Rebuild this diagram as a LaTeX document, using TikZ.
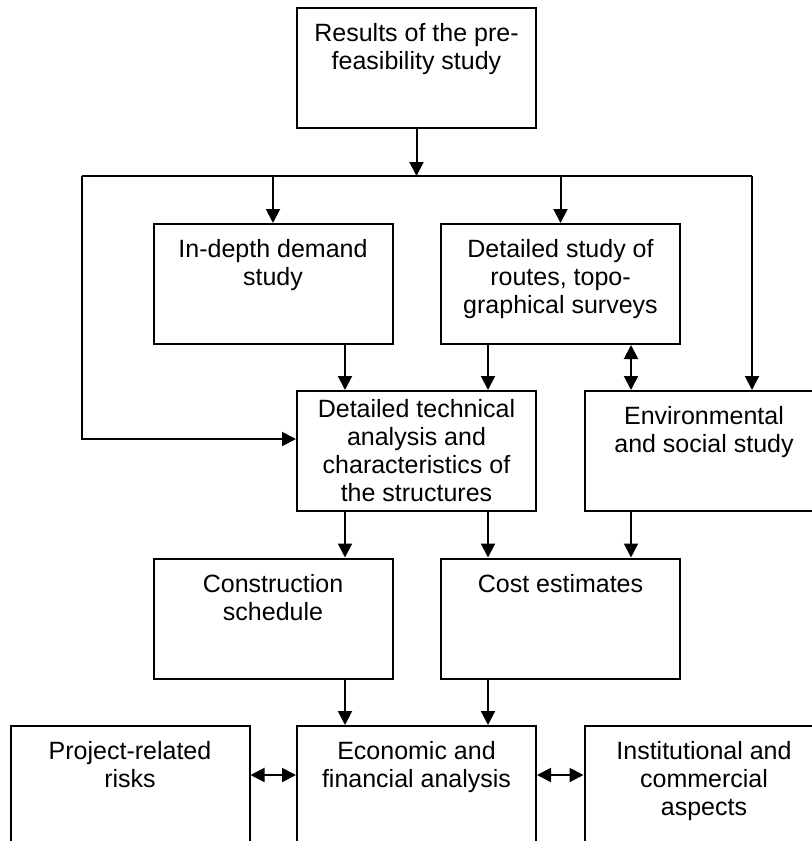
\documentclass[tikz,border=0pt]{standalone}
\usepackage{fontspec}
\setmainfont{Liberation Sans}
\usetikzlibrary{arrows.meta}
\begin{document}
\begin{tikzpicture}[x=0.5pt, y=-0.5pt,
    box/.style={draw, line width=1pt, minimum width=119.5pt, minimum height=60pt, inner sep=0pt},
    txt/.style={anchor=north, align=center, inner sep=0pt, yshift=-8pt, font=\fontsize{12.5}{14}\selectfont},
    arr/.style={line width=1pt, -{Triangle[length=7pt,width=7pt]}},
    both/.style={line width=1pt, {Triangle[length=7pt,width=7pt]}-{Triangle[length=7pt,width=7pt]}}]
    \useasboundingbox (0,0) rectangle (812,841);
    \clip (0,0) rectangle (812,841);

    \node[box, label={[txt]north:{Results of the pre-\\feasibility study}}] (res) at (416.5,68) {};

    \node[box, label={[txt]north:{In-depth demand\\study}}] (demand) at (273,284) {};
    \node[box, label={[txt]north:{Detailed study of\\routes, topo-\\graphical surveys}}] (routes) at (560.5,284) {};

    \node[box, label={[txt,yshift=3.5pt]north:{Detailed technical\\analysis and\\characteristics of\\the structures}}] (tech) at (416.5,451) {};
    \node[box, label={[txt]north:{Environmental\\and social study}}] (env) at (704,451) {};

    \node[box, label={[txt]north:{Construction\\schedule}}] (sched) at (273,618.5) {};
    \node[box, label={[txt]north:{Cost estimates}}] (cost) at (560.5,618.5) {};

    \node[box, label={[txt]north:{Project-related\\risks}}] (risks) at (130,786) {};
    \node[box, label={[txt]north:{Economic and\\financial analysis}}] (econ) at (416.5,786) {};
    \node[box, label={[txt]north:{Institutional and\\commercial\\aspects}}] (inst) at (704,786) {};

    \coordinate (split) at (416.5,176);
    \coordinate (lt) at (82,176);
    \coordinate (rt) at (752,176);
    \draw[arr] (res) -- (split);
    \draw[line width=1pt] (lt) -- (rt);
    \draw[arr] (demand |- split) -- (demand);
    \draw[arr] (routes |- split) -- (routes);
    \draw[arr] (rt) -- (rt |- env.north);
    \draw[arr] (lt) |- ([yshift=6pt]tech.west);

    \draw[arr] (345,0 |- demand.south) -- (345,0 |- tech.north);
    \draw[arr] (488,0 |- routes.south) -- (488,0 |- tech.north);
    \draw[both] (631,0 |- routes.south) -- (631,0 |- env.north);

    \draw[arr] (345,0 |- tech.south) -- (345,0 |- sched.north);
    \draw[arr] (488,0 |- tech.south) -- (488,0 |- cost.north);
    \draw[arr] (631,0 |- env.south) -- (631,0 |- cost.north);

    \draw[arr] (345,0 |- sched.south) -- (345,0 |- econ.north);
    \draw[arr] (488,0 |- cost.south) -- (488,0 |- econ.north);
    \draw[both] (risks.east |- 0,775) -- (econ.west |- 0,775);
    \draw[both] (econ.east |- 0,775) -- (inst.west |- 0,775);
\end{tikzpicture}
\end{document}
